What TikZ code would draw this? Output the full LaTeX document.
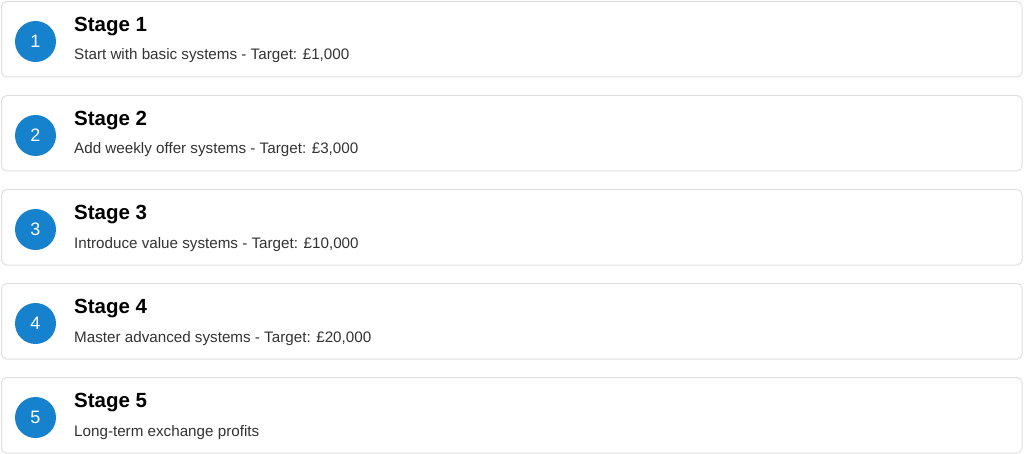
\documentclass[tikz,border=0pt]{standalone}
\usepackage{fontspec}
\setmainfont{Liberation Sans}
\definecolor{stageblue}{RGB}{22,130,206}
\definecolor{boxline}{RGB}{224,224,224}
\definecolor{desctext}{RGB}{51,51,51}
\begin{document}
\begin{tikzpicture}[x=1pt,y=-1pt,
  stagebox/.style={draw=boxline,line width=1pt,rounded corners=5pt,fill=white,minimum width=1020.5pt,minimum height=75.5pt,inner sep=0pt},
  stagenum/.style={circle,fill=stageblue,minimum size=41pt,inner sep=0pt,text=white,font=\fontsize{18}{18}\selectfont},
  stagetitle/.style={anchor=base west,inner sep=0pt,font=\fontsize{20.5}{20}\selectfont\bfseries},
  stagedesc/.style={anchor=base west,inner sep=0pt,text=desctext,font=\fontsize{15.2}{15}\selectfont}]
\useasboundingbox (0,0) rectangle (1024,454);
\foreach \k/\desc in {1/{Start with basic systems - Target: £1,000},
                      2/{Add weekly offer systems - Target: £3,000},
                      3/{Introduce value systems - Target: £10,000},
                      4/{Master advanced systems - Target: £20,000},
                      5/{Long-term exchange profits}}{
  \pgfmathsetmacro{\oy}{94*(\k-1)}
  \node[stagebox] (box\k) at (511.75,39.25+\oy) {};
  \node[stagenum] (num\k) at (35.5,41.5+\oy) {\k};
  \node[stagetitle] (title\k) at (74,31.5+\oy) {Stage \k};
  \node[stagedesc] (desc\k) at (74,60+\oy) {\desc};
}
\end{tikzpicture}
\end{document}
